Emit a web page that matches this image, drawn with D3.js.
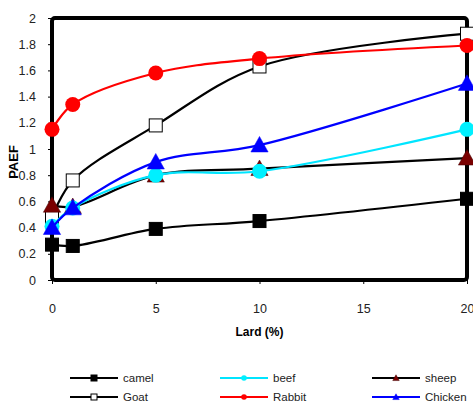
<!DOCTYPE html>
<html>
<head>
<meta charset="utf-8">
<script src="https://cdn.jsdelivr.net/npm/d3@7"></script>
<style>
  body { margin: 0; background: #fff; }
  svg { font-family: "Liberation Sans", Arial, sans-serif; }
</style>
</head>
<body>
<div id="chart"></div>
<script>
// lard levels (%)
const lard = [0, 1, 5, 10, 20];
const camel = [0.27, 0.26, 0.39, 0.45, 0.62];
const beef = [0.41, 0.55, 0.80, 0.83, 1.15];
const sheep = [0.57, 0.56, 0.80, 0.85, 0.93];
const goat = [0.48, 0.76, 1.18, 1.63, 1.88];
const rabbit = [1.15, 1.34, 1.58, 1.69, 1.79];
const chicken = [0.40, 0.55, 0.90, 1.03, 1.50];
const xTicks = [0, 5, 10, 15, 20];
const yTicks = [0, 0.2, 0.4, 0.6, 0.8, 1, 1.2, 1.4, 1.6, 1.8, 2];

const series = [
  { name: 'camel', values: camel, color: '#000', shape: 'square', fill: '#000' },
  { name: 'beef', values: beef, color: '#00e5ff', shape: 'circle', fill: '#00f0ff' },
  { name: 'sheep', values: sheep, color: '#000', shape: 'triangle', fill: '#7a0000' },
  { name: 'Goat', values: goat, color: '#000', shape: 'square', fill: '#fff' },
  { name: 'Rabbit', values: rabbit, color: '#ff0000', shape: 'circle', fill: '#ff0000' },
  { name: 'Chicken', values: chicken, color: '#0000ff', shape: 'triangle', fill: '#0000ff' }
];

const width = 473, height = 405;
const plot = { left: 52, right: 467, top: 18, bottom: 280 };

const svg = d3.select('#chart').append('svg')
  .attr('width', width).attr('height', height);

const xScale = d3.scaleLinear().domain([0, 20]).range([plot.left, plot.right]);
const yScale = d3.scaleLinear().domain([0, 2]).range([plot.bottom, plot.top]);

// axes (ticks + labels only, frame drawn separately)
const yAxis = svg.append('g')
  .attr('transform', `translate(${plot.left},0)`)
  .call(d3.axisLeft(yScale).tickValues(yTicks).tickSize(4).tickPadding(12)
    .tickFormat(d3.format('~g')));
yAxis.select('.domain').remove();
yAxis.selectAll('text').style('font-size', '12.5px').attr('fill', '#222');

const xAxis = svg.append('g')
  .attr('transform', `translate(0,${plot.bottom})`)
  .call(d3.axisBottom(xScale).tickValues(xTicks).tickSize(4).tickPadding(20));
xAxis.select('.domain').remove();
xAxis.selectAll('text').style('font-size', '12.5px').attr('fill', '#222');

// plot frame
svg.append('rect')
  .attr('x', plot.left).attr('y', plot.top)
  .attr('width', plot.right - plot.left).attr('height', plot.bottom - plot.top)
  .attr('rx', 3)
  .attr('fill', 'none').attr('stroke', '#000').attr('stroke-width', 4);

// axis titles
svg.append('text')
  .attr('x', (plot.left + plot.right) / 2).attr('y', 336)
  .attr('text-anchor', 'middle')
  .style('font-size', '12px').style('font-weight', 'bold')
  .text('Lard (%)');

svg.append('text')
  .attr('transform', 'translate(18,162) rotate(-90)')
  .attr('text-anchor', 'middle')
  .style('font-size', '13px').style('font-weight', 'bold')
  .text('PAEF');

const line = d3.line()
  .x((d, i) => xScale(lard[i]))
  .y(d => yScale(d))
  .curve(d3.curveCatmullRom.alpha(0.5));

function marker(g, shape, size, fill, stroke) {
  if (shape === 'square') {
    g.append('rect').attr('x', -size).attr('y', -size)
      .attr('width', size * 2).attr('height', size * 2)
      .attr('fill', fill).attr('stroke', stroke).attr('stroke-width', 1);
  } else if (shape === 'circle') {
    g.append('circle').attr('r', size).attr('fill', fill);
  } else {
    const s = size * 1.15;
    g.append('path').attr('d', `M0,${-s} L${s},${s * 0.8} L${-s},${s * 0.8} Z`)
      .attr('fill', fill).attr('stroke', fill === '#7a0000' ? '#400' : fill).attr('stroke-width', 0.5);
  }
}

const order = ['camel', 'Goat', 'sheep', 'beef', 'Chicken', 'Rabbit'];
order.forEach(name => {
  const s = series.find(d => d.name === name);
  const g = svg.append('g');
  g.append('path').datum(s.values)
    .attr('d', line)
    .attr('fill', 'none')
    .attr('stroke', s.color)
    .attr('stroke-width', 2.2);
  g.selectAll('g.pt').data(s.values).join('g')
    .attr('class', 'pt')
    .attr('transform', (d, i) => `translate(${xScale(lard[i])},${yScale(d)})`)
    .each(function () {
      const sz = s.shape === 'square' ? 6.5 : 7.5;
      marker(d3.select(this), s.shape, sz, s.fill, s.shape === 'square' ? '#000' : s.fill);
    });
});

// legend
const legCols = [70, 220, 372];
const legRows = [378, 397];
series.forEach((s, i) => {
  const x = legCols[i % 3], y = legRows[Math.floor(i / 3)];
  const g = svg.append('g').attr('transform', `translate(${x},${y})`);
  g.append('line').attr('x1', 0).attr('x2', 48).attr('y1', 0).attr('y2', 0)
    .attr('stroke', s.color).attr('stroke-width', 2);
  const mg = g.append('g').attr('transform', 'translate(24,0)');
  marker(mg, s.shape, s.shape === 'square' ? 3 : 2.8, s.fill, s.shape === 'square' ? '#000' : s.fill);
  g.append('text').attr('x', 53).attr('y', 4)
    .style('font-size', '11.5px').attr('fill', '#222')
    .text(s.name);
});
</script>
</body>
</html>
